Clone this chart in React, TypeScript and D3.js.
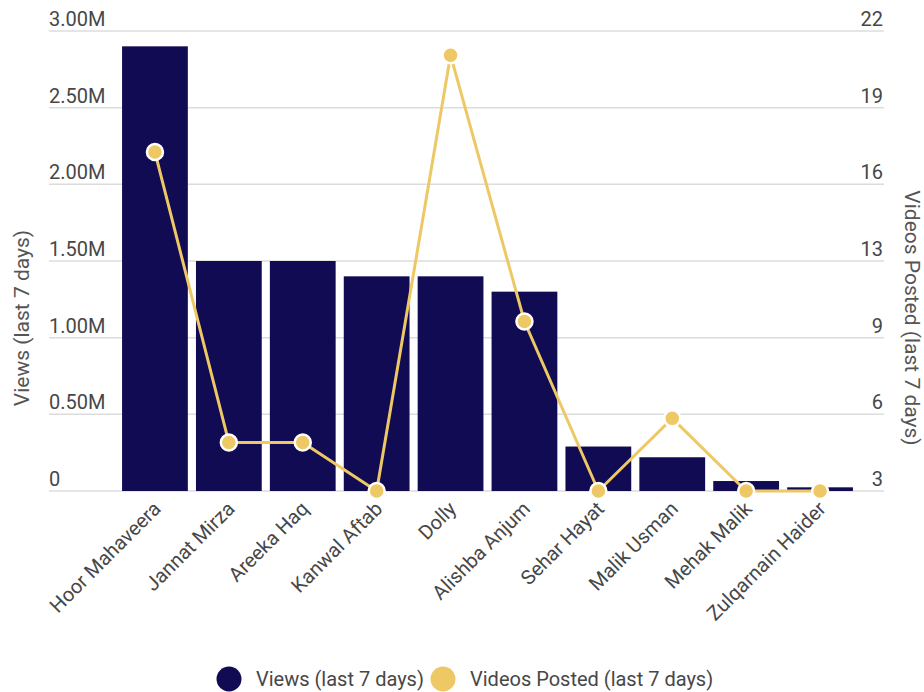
import React, { useEffect, useRef } from 'react';
import * as d3 from 'd3';

const creators = [
  'Hoor Mahaveera',
  'Jannat Mirza',
  'Areeka Haq',
  'Kanwal Aftab',
  'Dolly',
  'Alishba Anjum',
  'Sehar Hayat',
  'Malik Usman',
  'Mehak Malik',
  'Zulqarnain Haider',
];
const views = [2900000, 1500000, 1500000, 1400000, 1400000, 1300000, 290000, 220000, 65000, 24000];
const videosPosted = [17, 5, 5, 3, 21, 10, 3, 6, 3, 3];
const viewTicks = [0, 500000, 1000000, 1500000, 2000000, 2500000, 3000000];
const viewTickLabels = ['0', '0.50M', '1.00M', '1.50M', '2.00M', '2.50M', '3.00M'];
const videoTickLabels = ['3', '6', '9', '13', '16', '19', '22'];
const legendLabels = ['Views (last 7 days)', 'Videos Posted (last 7 days)'];

const NAVY = '#100b52';
const GOLD = '#eec865';
const FONT = 'Roboto, sans-serif';

export default function App() {
  const svgRef = useRef<SVGSVGElement | null>(null);

  useEffect(() => {
    const svg = d3.select(svgRef.current);
    svg.selectAll('*').remove(); // limpa antes de redesenhar

    const top = 31;
    const bottom = 491;
    const gridLeft = 49;
    const gridRight = 884;

    const x = d3
      .scaleBand<string>()
      .domain(creators)
      .range([118, 857])
      .paddingInner(0.11)
      .paddingOuter(0.055);

    const yViews = d3.scaleLinear().domain([0, 3000000]).range([bottom, top]);
    const yVideos = d3.scaleLinear().domain([3, 22]).range([bottom, top]);

    // grade + rótulos
    const grid = svg.append('g');
    viewTicks.forEach((t, i) => {
      const yy = yViews(t);
      grid
        .append('line')
        .attr('x1', gridLeft)
        .attr('x2', gridRight)
        .attr('y1', yy)
        .attr('y2', yy)
        .attr('stroke', '#dcdcdc')
        .attr('stroke-width', 1.5);
      grid
        .append('text')
        .attr('x', gridLeft)
        .attr('y', yy - 5)
        .attr('fill', '#474747')
        .attr('font-size', 20)
        .attr('font-family', FONT)
        .text(viewTickLabels[i]);
      grid
        .append('text')
        .attr('x', gridRight - 1)
        .attr('y', yy - 5)
        .attr('text-anchor', 'end')
        .attr('fill', '#474747')
        .attr('font-size', 20)
        .attr('font-family', FONT)
        .text(videoTickLabels[i]);
    });

    // barras
    svg
      .append('g')
      .selectAll('rect')
      .data(views)
      .join('rect')
      .attr('x', (_, i) => x(creators[i]) as number)
      .attr('y', (d) => yViews(d))
      .attr('width', x.bandwidth())
      .attr('height', (d) => bottom - yViews(d))
      .attr('fill', NAVY);

    // linha de vídeos
    const line = d3
      .line<number>()
      .x((_, i) => (x(creators[i]) as number) + x.bandwidth() / 2)
      .y((d) => yVideos(d));

    svg
      .append('path')
      .datum(videosPosted)
      .attr('fill', 'none')
      .attr('stroke', GOLD)
      .attr('stroke-width', 3)
      .attr('d', line);

    svg
      .append('g')
      .selectAll('circle')
      .data(videosPosted)
      .join('circle')
      .attr('cx', (_, i) => (x(creators[i]) as number) + x.bandwidth() / 2)
      .attr('cy', (d) => yVideos(d))
      .attr('r', 8)
      .attr('fill', GOLD)
      .attr('stroke', '#fff')
      .attr('stroke-width', 2.5);

    // rótulos do eixo x
    svg
      .append('g')
      .selectAll('text')
      .data(creators)
      .join('text')
      .attr('transform', (d) => {
        const cx = (x(d) as number) + x.bandwidth() / 2 + 7;
        return `translate(${cx},${bottom + 19}) rotate(-45)`;
      })
      .attr('text-anchor', 'end')
      .attr('fill', '#474747')
      .attr('font-size', 20)
      .attr('font-family', FONT)
      .text((d) => d);

    // títulos dos eixos
    svg
      .append('text')
      .attr('transform', `translate(29,318) rotate(-90)`)
      .attr('text-anchor', 'middle')
      .attr('fill', '#555')
      .attr('font-size', 21)
      .attr('font-family', FONT)
      .text(legendLabels[0]);

    svg
      .append('text')
      .attr('transform', `translate(905,318) rotate(90)`)
      .attr('text-anchor', 'middle')
      .attr('fill', '#555')
      .attr('font-size', 21)
      .attr('font-family', FONT)
      .text(legendLabels[1]);

    // legenda
    const legend = svg.append('g');
    const legendItems = [
      { label: legendLabels[0], color: NAVY, cx: 229 },
      { label: legendLabels[1], color: GOLD, cx: 443 },
    ];
    legendItems.forEach((it) => {
      legend.append('circle').attr('cx', it.cx).attr('cy', 679).attr('r', 12.5).attr('fill', it.color);
      legend
        .append('text')
        .attr('x', it.cx + 27)
        .attr('y', 686)
        .attr('fill', '#474747')
        .attr('font-size', 20)
        .attr('font-family', FONT)
        .text(it.label);
    });
  }, []);

  return (
    <svg
      ref={svgRef}
      width={924}
      height={692}
      style={{ position: 'absolute', left: 0, top: 0, background: '#fff' }}
    ></svg>
  );
}
